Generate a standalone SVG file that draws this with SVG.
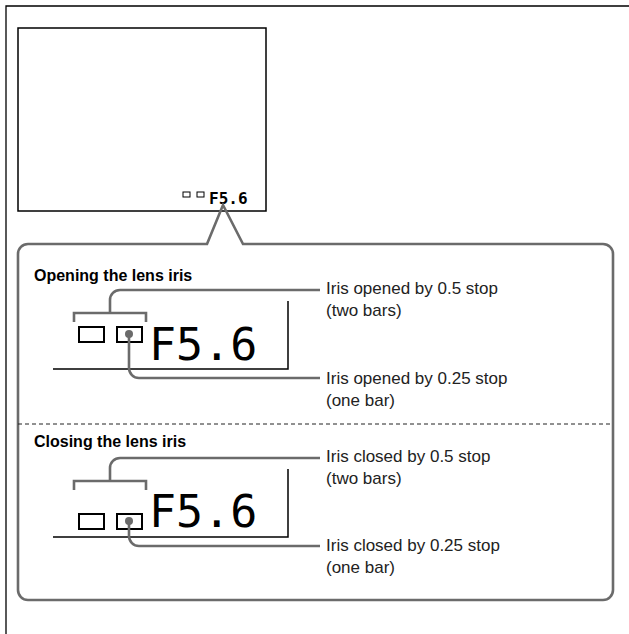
<svg xmlns="http://www.w3.org/2000/svg" width="629" height="634" viewBox="0 0 629 634">
<style>
.frame{fill:none;stroke:#000;stroke-width:1.3}
.blk{fill:none;stroke:#000;stroke-width:1.5}
.bar{fill:#fff;stroke:#000;stroke-width:2}
.conn{fill:none;stroke:#6b6b6b;stroke-width:2.6;stroke-linecap:butt}
.dot{fill:#6b6b6b}
.title{font-family:"Liberation Sans",Arial,sans-serif;font-weight:bold;font-size:16px;fill:#000}
.lbl{font-family:"Liberation Sans",Arial,sans-serif;font-size:17px;fill:#222}
.big{font-family:"DejaVu Sans Mono","Liberation Mono",monospace;font-size:45px;fill:#000}
.small{font-family:"DejaVu Sans Mono","Liberation Mono",monospace;font-weight:bold;font-size:16px;fill:#000}
</style>
<g id="page">
<path class="frame" d="M6 634 V6 H629"/>
</g>
<g id="monitor">
<rect class="blk" x="18" y="28" width="248" height="183"/>
<rect x="183" y="192" width="7" height="5" fill="#fff" stroke="#000" stroke-width="1"/>
<rect x="197" y="192" width="7" height="5" fill="#fff" stroke="#000" stroke-width="1"/>
<text class="small" x="209" y="204">F5.6</text>
</g>
<g id="callout">
<path class="conn" d="M207 244 L223 205 L243 244 H603 A10 10 0 0 1 613 254 V590 A10 10 0 0 1 603 600 H28 A10 10 0 0 1 18 590 V254 A10 10 0 0 1 28 244 Z"/>
<line x1="18" y1="424" x2="613" y2="424" stroke="#222" stroke-width="1" stroke-dasharray="4 3"/>
</g>
<g id="opening">
<text class="title" x="34" y="281">Opening the lens iris</text>
<path class="blk" d="M53 369 H288 V301"/>
<rect class="bar" x="79" y="327" width="25" height="15"/>
<rect class="bar" x="117" y="327" width="25" height="15"/>
<text class="big" x="149" y="360">F5.6</text>
<text class="lbl" x="326" y="294">Iris opened by 0.5 stop</text>
<text class="lbl" x="326" y="316">(two bars)</text>
<text class="lbl" x="326" y="384">Iris opened by 0.25 stop</text>
<text class="lbl" x="326" y="406">(one bar)</text>
</g>
<g id="closing">
<text class="title" x="34" y="447">Closing the lens iris</text>
<path class="blk" d="M53 537 H288 V469"/>
<rect class="bar" x="79" y="514" width="25" height="15"/>
<rect class="bar" x="117" y="514" width="25" height="15"/>
<text class="big" x="149" y="527">F5.6</text>
<text class="lbl" x="326" y="462">Iris closed by 0.5 stop</text>
<text class="lbl" x="326" y="484">(two bars)</text>
<text class="lbl" x="326" y="551">Iris closed by 0.25 stop</text>
<text class="lbl" x="326" y="573">(one bar)</text>
</g>
<g id="connectors">
<path class="conn" d="M320 290 H120 A10 10 0 0 0 110 300 V313"/>
<path class="conn" d="M74 322 V313 H146 V322"/>
<circle class="dot" cx="129" cy="334" r="4"/>
<path class="conn" d="M129 334 V368 A10 10 0 0 0 139 378 H320"/>
<path class="conn" d="M320 458 H120 A10 10 0 0 0 110 468 V481"/>
<path class="conn" d="M74 490 V481 H146 V490"/>
<circle class="dot" cx="129" cy="521" r="4"/>
<path class="conn" d="M129 521 V536 A10 10 0 0 0 139 546 H320"/>
</g>
</svg>
